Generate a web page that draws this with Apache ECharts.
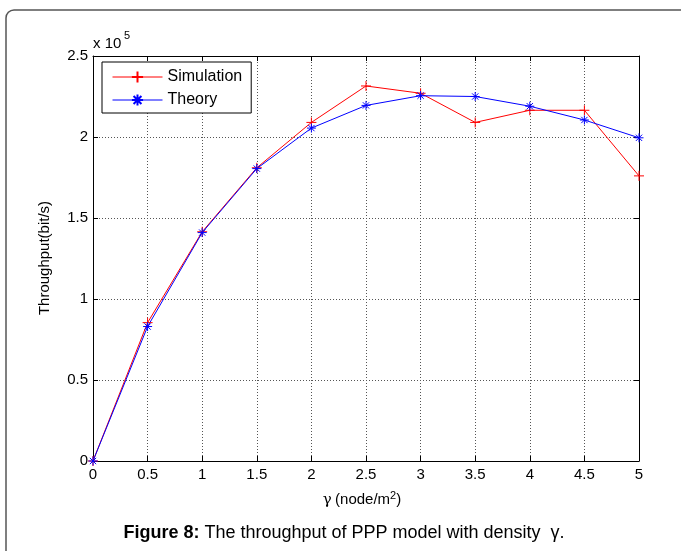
<!DOCTYPE html>
<html>
<head>
<meta charset="utf-8">
<script src="https://cdn.jsdelivr.net/npm/echarts@6/dist/echarts.min.js"></script>
<style>
  html, body { margin: 0; padding: 0; background: #fff; }
  #chart { width: 681px; height: 551px; }
</style>
</head>
<body>
<div id="chart"></div>
<script>
// density gamma (node/m^2)
const gammaValues = [0, 0.5, 1, 1.5, 2, 2.5, 3, 3.5, 4, 4.5, 5]
// throughput in bit/s
const simulation = [0, 85400, 141500, 181000, 209000, 231500, 227000, 209000, 216500, 216500, 176000]
const theory = [0, 83000, 141000, 180500, 205500, 219500, 225500, 225000, 219000, 210500, 199500]

const plusSymbol = 'path://M5,0L5,10M0,5L10,5'
const starSymbol = 'path://M5,0L5,10M0,5L10,5M1.5,1.5L8.5,8.5M8.5,1.5L1.5,8.5'

const font = 'Liberation Sans, Arial, sans-serif'

const pairs = arr => gammaValues.map((g, i) => [g, arr[i]])

const chart = echarts.init(document.getElementById('chart'))

const axisCommon = {
  axisLine: { show: true, onZero: false, lineStyle: { color: '#000', width: 1 } },
  axisTick: { show: true, inside: true, length: 5, lineStyle: { color: '#000' } },
}

chart.setOption({
  animation: false,
  backgroundColor: '#fff',
  grid: { left: 93, right: 42, top: 56, bottom: 90 },
  xAxis: [
    {
      type: 'value', min: 0, max: 5, interval: 0.5,
      ...axisCommon,
      axisLabel: { color: '#000', fontSize: 15, fontFamily: font, margin: 6 },
      splitLine: { show: true, lineStyle: { color: '#555', type: [1, 2], width: 1 } },
    },
    {
      type: 'value', position: 'top', min: 0, max: 5, interval: 0.5,
      ...axisCommon,
      axisLabel: { show: false },
      splitLine: { show: false },
    },
  ],
  yAxis: [
    {
      type: 'value', min: 0, max: 250000, interval: 50000,
      ...axisCommon,
      axisLabel: {
        color: '#000', fontSize: 15, fontFamily: font, margin: 5,
        formatter: v => String(v / 100000),
      },
      splitLine: { show: true, lineStyle: { color: '#555', type: [1, 2], width: 1 } },
    },
    {
      type: 'value', position: 'right', min: 0, max: 250000, interval: 50000,
      ...axisCommon,
      axisLabel: { show: false },
      splitLine: { show: false },
    },
  ],
  legend: {
    left: 102, top: 62,
    orient: 'vertical',
    backgroundColor: '#fff',
    borderColor: '#000',
    borderWidth: 1,
    borderRadius: 0,
    padding: [7, 9, 5, 10],
    itemWidth: 50,
    itemHeight: 14,
    itemGap: 7,
    lineStyle: { width: 1 },
    textStyle: { color: '#000', fontSize: 16, fontFamily: font },
    data: ['Simulation', 'Theory'],
  },
  series: [
    {
      name: 'Simulation', type: 'line',
      data: pairs(simulation),
      symbol: plusSymbol, symbolSize: 10,
      lineStyle: { color: '#ff0000', width: 1 },
      itemStyle: { color: 'rgba(0,0,0,0)', borderColor: '#ff0000', borderWidth: 1 },
      emphasis: { disabled: true },
    },
    {
      name: 'Theory', type: 'line',
      data: pairs(theory),
      symbol: starSymbol, symbolSize: 9,
      lineStyle: { color: '#0000ff', width: 1 },
      itemStyle: { color: 'rgba(0,0,0,0)', borderColor: '#0000ff', borderWidth: 1 },
      emphasis: { disabled: true },
    },
  ],
  graphic: [
    {
      type: 'rect', z: -10, silent: true,
      shape: { x: 6, y: 10, width: 700, height: 570, r: 8 },
      style: { fill: 'none', stroke: '#555', lineWidth: 1.5 },
    },
    {
      type: 'text', left: 93, top: 36,
      style: { text: 'x 10', fontSize: 15, fontFamily: font, fill: '#000' },
    },
    {
      type: 'text', left: 124, top: 30,
      style: { text: '5', fontSize: 11, fontFamily: font, fill: '#000' },
    },
    {
      type: 'text', x: 45, y: 258, rotation: Math.PI / 2,
      style: {
        text: 'Throughput(bit/s)', fontSize: 15, fontFamily: font, fill: '#000',
        align: 'center', verticalAlign: 'middle',
      },
    },
    {
      type: 'text', x: 362, y: 500,
      style: {
        text: '{g|γ} {t|(node/m}{s|2}{t|)}',
        align: 'center', verticalAlign: 'middle',
        rich: {
          g: { fontSize: 15, fontFamily: 'DejaVu Serif, serif', fill: '#000' },
          t: { fontSize: 15, fontFamily: font, fill: '#000' },
          s: { fontSize: 11, fontFamily: font, fill: '#000', padding: [0, 0, 9, 0] },
        },
      },
    },
    {
      type: 'text', x: 344, y: 533,
      style: {
        text: '{b|Figure 8:}{n| The throughput of PPP model with density  γ.}',
        align: 'center', verticalAlign: 'middle',
        rich: {
          b: { fontSize: 18, fontWeight: 'bold', fontFamily: font, fill: '#000' },
          n: { fontSize: 18, fontFamily: font, fill: '#000' },
        },
      },
    },
  ],
})
</script>
</body>
</html>
